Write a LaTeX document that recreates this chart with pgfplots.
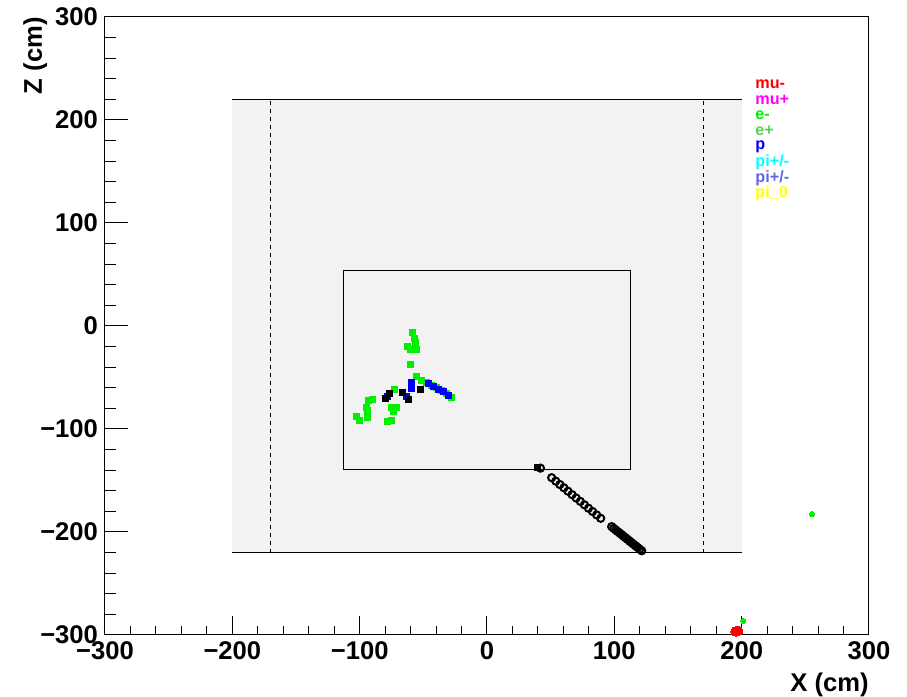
\documentclass[border=0pt]{standalone}
\usepackage{fontspec}
\setmainfont{Liberation Sans}
\usepackage{pgfplots}
\pgfplotsset{compat=1.18}
\definecolor{boxgray}{RGB}{242,242,242}
\definecolor{pgreen}{RGB}{0,240,0}
\definecolor{pblue}{RGB}{0,0,255}
\definecolor{ered}{RGB}{255,0,0}
\definecolor{pmag}{RGB}{255,0,255}
\definecolor{pcyan}{RGB}{0,255,255}
\definecolor{epos}{RGB}{90,205,90}
\definecolor{pislate}{RGB}{100,100,225}
\definecolor{pizero}{RGB}{255,255,0}
\begin{document}
\begin{tikzpicture}
\begin{axis}[
  scale only axis, width=382pt, height=309pt,
  xmin=-300, xmax=300, ymin=-300, ymax=300,
  xtick={-300,-200,-100,0,100,200,300},
  ytick={-300,-200,-100,0,100,200,300},
  xticklabels={−300,−200,−100,0,100,200,300},
  yticklabels={−300,−200,−100,0,100,200,300},
  minor tick num=4,
  tick align=inside,
  xtick pos=left, ytick pos=left,
  axis line style={line width=0.5pt},
  tick style={black, line width=0.5pt},
  major tick length=9.25pt, minor tick length=4.6pt,
  ytick style={/pgfplots/major tick length=11.5pt,/pgfplots/minor tick length=5.75pt},
  ticklabel style={font=\fontsize{12.8}{14}\selectfont\bfseries},
]
% outer grey region
\addplot[draw=none, fill=boxgray] coordinates {(-200,-220) (200,-220) (200,220) (-200,220)} -- cycle;
\addplot[black, line width=0.5pt] coordinates {(-200,220) (200,220)};
\addplot[black, line width=0.5pt] coordinates {(-200,-220) (200,-220)};
\addplot[black, line width=0.5pt, dash pattern=on 2pt off 2pt] coordinates {(-170,-220) (-170,220)};
\addplot[black, line width=0.5pt, dash pattern=on 2pt off 2pt] coordinates {(170,-220) (170,220)};
% inner box
\addplot[black, line width=0.5pt] coordinates {(-113,-139) (113,-139) (113,53.5) (-113,53.5) (-113,-139)};

% green (e-) hits
\addplot[only marks, mark=square*, mark size=1.5pt, mark options={fill=pgreen, draw=pgreen, line width=0pt}] coordinates {
(-58.4,-6.5) (-57.3,-11.9) (-56.5,-16.2) (-62.3,-20.1) (-59.9,-22.6) (-55.2,-22.6) (-59.9,-37.2)
(-55.2,-49.2) (-51.3,-53.1) (-47.4,-55.0) (-43.4,-57.3) (-39.5,-59.5) (-35.6,-62.8) (-31.6,-65.3) (-27.7,-69.6)
(-73.0,-62.1)
(-90.1,-70.9) (-93.2,-72.8) (-95.0,-78.9) (-94.0,-82.2) (-93.7,-88.6) (-102.3,-87.4) (-100.5,-91.9)
(-74.8,-78.9) (-70.9,-78.9) (-73.6,-83.2) (-74.8,-91.9) (-78.3,-92.9)
};
% blue (p) hits
\addplot[only marks, mark=square*, mark size=1.5pt, mark options={fill=pblue, draw=pblue, line width=0pt}] coordinates {
(-46.1,-56.3) (-42.2,-58.9) (-38.2,-61.5) (-34.3,-63.8) (-30.4,-67.0)
(-59.1,-54.4) (-59.1,-57.5) (-59.1,-60.2) (-63.6,-68.6) (-78.3,-68.0)
};
% black filled hits near vertex
\addplot[only marks, mark=square*, mark size=1.5pt, mark options={fill=black, draw=black, line width=0pt}] coordinates {
(-52.6,-61.2) (-66.2,-64.8) (-61.8,-71.8) (-76.7,-66.0) (-80.1,-70.2) (39.5,-137.0)
};
% black open circles (track)
\addplot[only marks, mark=o, mark size=1.8pt, mark options={draw=black, line width=1pt}] coordinates {
(42.0,-138.0)
(50.8,-147.3) (54.0,-150.6) (57.2,-153.9) (60.4,-157.1) (63.6,-160.4) (66.8,-163.7) (70.0,-167.0)
(73.3,-170.3) (76.5,-173.6) (79.7,-176.9) (82.9,-180.1) (86.1,-183.4) (89.3,-186.7)
(97.9,-194.8) (99.5,-196.4) (101.0,-197.9) (102.6,-199.5) (104.2,-201.0) (105.8,-202.6) (107.3,-204.2)
(108.9,-205.7) (110.5,-207.3) (112.1,-208.9) (113.6,-210.4) (115.2,-212.0) (116.8,-213.5) (118.4,-215.1)
(119.9,-216.7) (121.5,-218.2)
};
% isolated green hits
\addplot[only marks, mark=*, mark size=1.3pt, mark options={fill=pgreen, draw=pgreen, line width=0pt}] coordinates {
(255.2,-182.5) (201.3,-286.4)
};
% red hits
\addplot[only marks, mark=*, mark size=2.4pt, mark options={fill=ered, draw=ered, line width=0pt}] coordinates {
(195.2,-296.5) (197.2,-296.0)
};

% legend text
\node[anchor=west, inner sep=0pt, text=ered, font=\fontsize{8.1}{9}\selectfont\bfseries] at (axis cs:210.5,234.5) {mu-};
\node[anchor=west, inner sep=0pt, text=pmag, font=\fontsize{8.1}{9}\selectfont\bfseries] at (axis cs:210.5,219.5) {mu+};
\node[anchor=west, inner sep=0pt, text=pgreen, font=\fontsize{8.1}{9}\selectfont\bfseries] at (axis cs:210.5,204.3) {e-};
\node[anchor=west, inner sep=0pt, text=epos, font=\fontsize{8.1}{9}\selectfont\bfseries] at (axis cs:210.5,189.3) {e+};
\node[anchor=west, inner sep=0pt, text=pblue, font=\fontsize{8.1}{9}\selectfont\bfseries] at (axis cs:210.5,174) {p};
\node[anchor=west, inner sep=0pt, text=pcyan, font=\fontsize{8.1}{9}\selectfont\bfseries] at (axis cs:210.5,159) {pi+/-};
\node[anchor=west, inner sep=0pt, text=pislate, font=\fontsize{8.1}{9}\selectfont\bfseries] at (axis cs:210.5,143.8) {pi+/-};
\node[anchor=west, inner sep=0pt, text=pizero, font=\fontsize{8.1}{9}\selectfont\bfseries] at (axis cs:210.5,128.5) {pi\_0};
\end{axis}
\node[anchor=base east, inner sep=0pt, font=\fontsize{12.8}{14}\selectfont\bfseries] at (382pt,-28.5pt) {X (cm)};
\node[rotate=90, anchor=base east, inner sep=0pt, font=\fontsize{12.8}{14}\selectfont\bfseries] at (-31.5pt,309pt) {Z (cm)};
\pgfresetboundingbox
\path[use as bounding box] (-52.5pt,-31pt) rectangle (401pt,317.5pt);
\end{tikzpicture}
\end{document}
